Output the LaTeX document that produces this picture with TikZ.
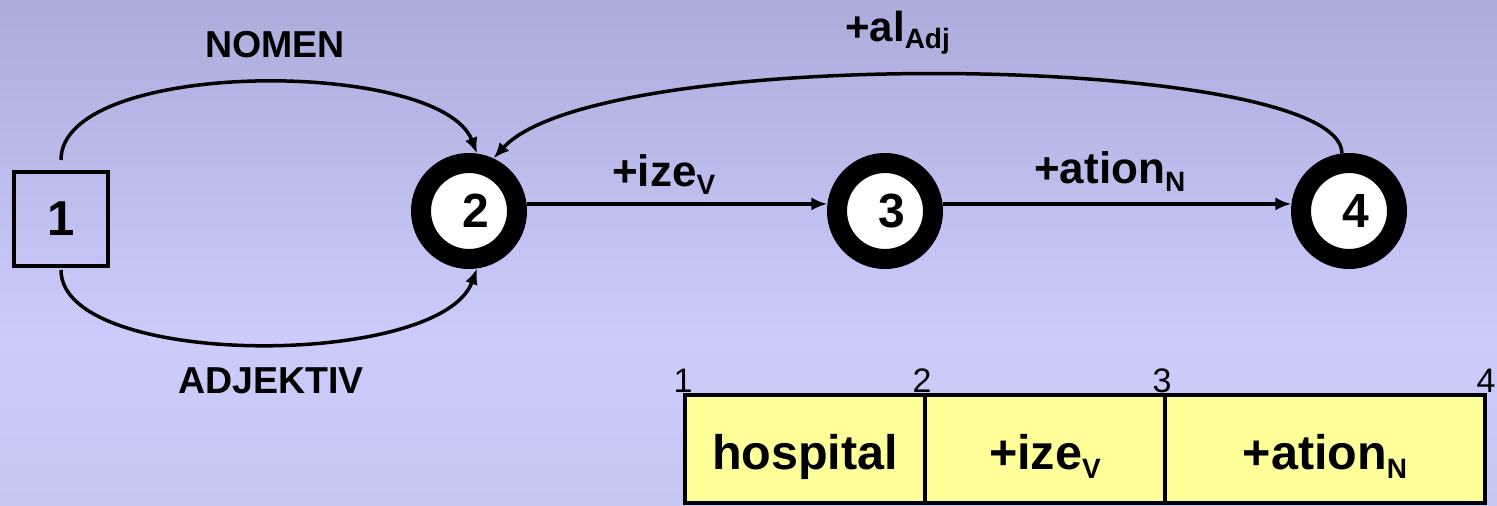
\documentclass[tikz,border=0pt]{standalone}
\usepackage{fontspec}
\setmainfont{Liberation Sans}
\usetikzlibrary{arrows.meta}
\definecolor{bgtop}{RGB}{172,172,220}
\definecolor{bgmid}{RGB}{204,204,252}
\definecolor{bgbot}{RGB}{198,198,242}
\definecolor{cellfill}{RGB}{255,255,153}
\newcommand{\lowsub}[2]{\raisebox{-#2pt}{\fontsize{28}{28}\selectfont #1}}
\begin{document}
\begin{tikzpicture}[x=1pt,y=-1pt,
  box/.style={draw,line width=4pt,minimum width=94pt,minimum height=94pt,inner sep=0pt,
    font=\fontsize{49}{49}\selectfont\bfseries},
  state/.style={circle,draw,fill=white,line width=20pt,minimum size=96pt,inner sep=0pt,
    font=\fontsize{48}{48}\selectfont\bfseries},
  arr/.style={line width=3.5pt,-{Latex[length=16pt,width=13pt]}},
  lbl/.style={font=\fontsize{37.5}{40}\selectfont\bfseries,inner sep=0pt},
  tlbl/.style={font=\fontsize{44}{46}\selectfont\bfseries,inner sep=0pt},
  cell/.style={draw,line width=4pt,fill=cellfill,minimum height=108pt,inner sep=0pt,
    text height=41pt,text depth=0pt,
    font=\fontsize{48.5}{50}\selectfont\bfseries},
  num/.style={font=\fontsize{34}{34}\selectfont,inner sep=0pt}]
\useasboundingbox (0,0) rectangle (1497,506);
\fill[top color=bgtop,bottom color=bgmid] (0,0) rectangle (1497,340);
\fill[top color=bgmid,bottom color=bgbot] (0,340) rectangle (1497,506);

\node[box] (n1) at (61,219) {1};
\node[state] (n2) at (469,211) {\hspace*{14pt}2};
\node[state] (n3) at (885,211) {\hspace*{14pt}3};
\node[state] (n4) at (1349,211) {\hspace*{14pt}4};

\draw[arr] (n2.7) -- (n3.173);
\draw[arr] (n3.7) -- (n4.173);
\draw[arr] ([yshift=10pt]n1.north) .. controls (61,58) and (440,58) .. (n2.82);
\draw[arr] ([yshift=-2pt]n1.south) .. controls (61,369) and (440,369) .. (n2.-82);
\draw[arr] (n4.97) .. controls (1342,54) and (600,42) .. (n2.65);

\node[lbl] (lnomen) at (275,45) {NOMEN};
\node[lbl] (ladj) at (271,381) {ADJEKTIV};
\node[tlbl,anchor=base west] (lize) at (612,186) {+ize\lowsub{V}{8}};
\node[tlbl,anchor=base west] (lation) at (1034,183) {+ation\lowsub{N}{8}};
\node[tlbl,font=\fontsize{42}{44}\selectfont\bfseries,anchor=base west] (lal) at (845,41) {+al\lowsub{Adj}{8}};

\node[cell,minimum width=240pt] (c1) at (805,449) {hospital};
\node[cell,minimum width=240pt] (c2) at (1045,449) {+ize\lowsub{V}{9}};
\node[cell,minimum width=320pt] (c3) at (1325,449) {+ation\lowsub{N}{9}};

\node[num,anchor=base] (p1) at (683,392) {1};
\node[num,anchor=base] (p2) at (922,392) {2};
\node[num,anchor=base] (p3) at (1162,392) {3};
\node[num,anchor=base] (p4) at (1486,392) {4};
\end{tikzpicture}
\end{document}
